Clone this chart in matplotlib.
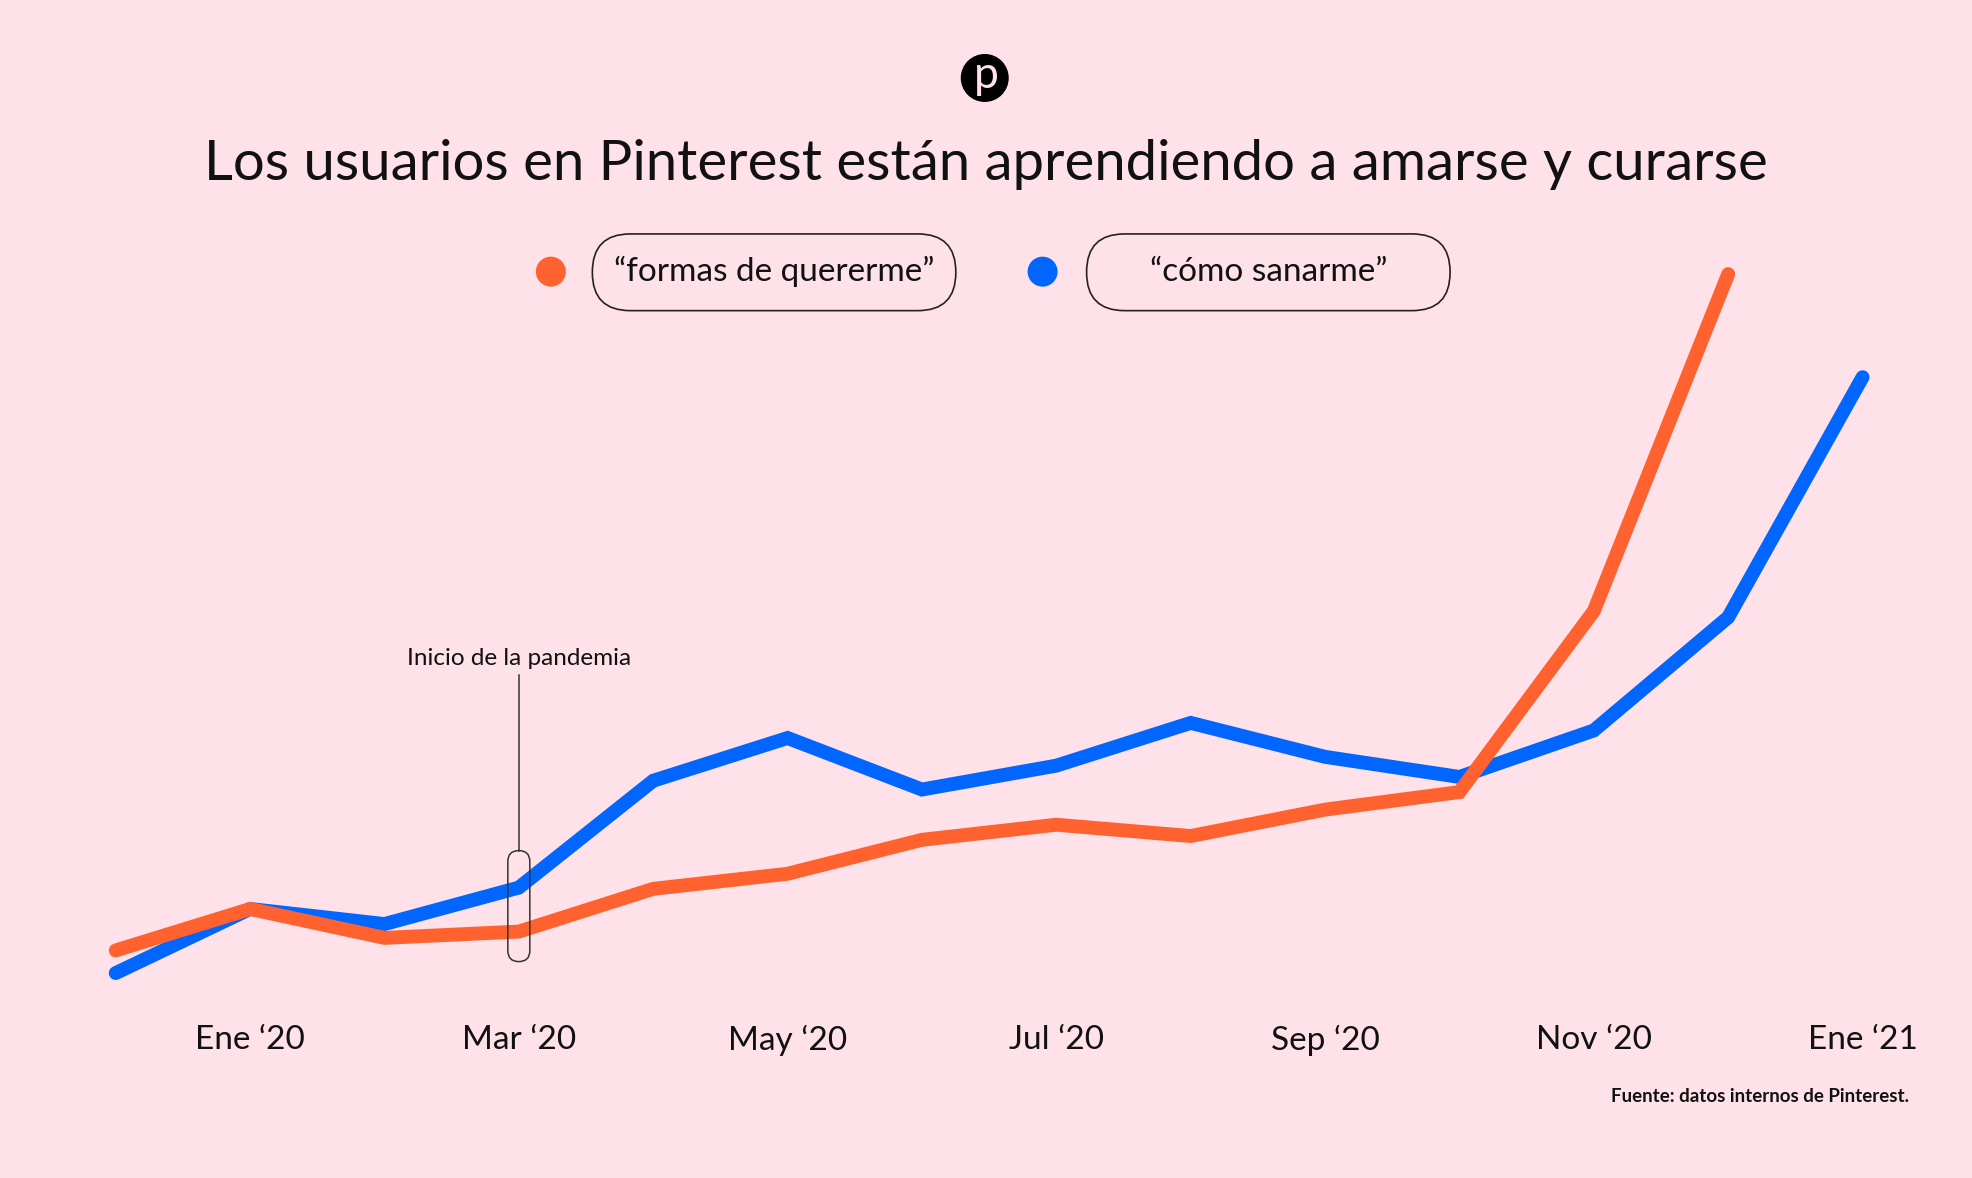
import numpy as np
import matplotlib.pyplot as plt
from matplotlib.patches import FancyBboxPatch, Circle

plt.rcParams['font.family'] = ['Lato', 'DejaVu Sans']

# Data (relative search interest)
months = ['Dic', 'Ene', 'Feb', 'Mar', 'Abr', 'May', 'Jun', 'Jul', 'Ago', 'Sep', 'Oct', 'Nov', 'Dic', 'Ene']
quererme = [44, 77, 54, 59, 93, 105, 132, 144, 135, 156, 170, 314, 582]
sanarme = [26, 77, 65, 94, 179, 213, 172, 191, 225, 198, 182, 219, 309, 500]
tick_idx = [1, 3, 5, 7, 9, 11, 13]
tick_labels = ['Ene \u201820', 'Mar \u201820', 'May \u201820', 'Jul \u201820',
               'Sep \u201820', 'Nov \u201820', 'Ene \u201821']

BG = '#FFE1E9'
ORANGE = '#FF622E'
BLUE = '#0066FF'
INK = '#111111'

W, H = 1972, 1178
S = W / 1568  # shown -> full scale

fig = plt.figure(figsize=(W / 100, H / 100), dpi=100, facecolor=BG)


def fx(x):
    return x / 1568


def fy(y):
    return 1 - y / 937


def inch(x, y):
    # shown coords -> inches from bottom-left
    return x * S / 100, (H - y * S) / 100


# axes: full width, x index 0 at shown 92, index 13 at 1481
step = (1481 - 92) / 13
ax = fig.add_axes([0, fy(790), 1, fy(200) - fy(790)])
ax.set_facecolor(BG)
ax.set_xlim(-92 / step, 13 + (1568 - 1481) / step)
ax.set_ylim(10, 600)
for s in ax.spines.values():
    s.set_visible(False)
ax.set_yticks([])

ax.plot(range(len(sanarme)), sanarme, color=BLUE, lw=10, solid_capstyle='round',
        solid_joinstyle='miter', clip_on=False, zorder=3)
ax.plot(range(len(quererme)), quererme, color=ORANGE, lw=10, solid_capstyle='round',
        solid_joinstyle='miter', clip_on=False, zorder=4)

ax.set_xticks(tick_idx)
ax.set_xticklabels(tick_labels, fontsize=24, color=INK)
ax.tick_params(axis='x', length=0, pad=23)

# annotation: pandemic start (March)
fig.canvas.draw()
px, py_blue = ax.transData.transform((3, sanarme[3]))
_, py_or = ax.transData.transform((3, quererme[3]))
top = py_blue + 37
bot = py_or - 30
wpx = 22
pill = FancyBboxPatch(((px - wpx / 2) / 100, bot / 100), wpx / 100, (top - bot) / 100,
                      boxstyle='round,pad=0,rounding_size=0.11',
                      transform=fig.dpi_scale_trans, facecolor='none',
                      edgecolor='#333333', lw=1.1, zorder=6)
fig.patches.append(pill)
ty = fy(537) * H
fig.add_artist(plt.Line2D([px / W, px / W], [top / H, ty / H], color='#333333', lw=1.1))
fig.text(px / W, fy(524), 'Inicio de la pandemia', ha='center', va='center',
         fontsize=17.5, color=INK)

# title
fig.text(0.5, fy(131), 'Los usuarios en Pinterest están aprendiendo a amarse y curarse',
         ha='center', va='center', fontsize=40.5, color=INK)

# pinterest logo
cx, cy = inch(783, 62)
fig.patches.append(Circle((cx, cy), 0.24, transform=fig.dpi_scale_trans,
                          facecolor='black', edgecolor='none'))
fig.text(fx(784), fy(60), 'p', ha='center', va='center', fontsize=32,
         color=BG)

# legend
for dot_x, x0, x1, label, col in [(438, 471, 760, '\u201cformas de quererme\u201d', ORANGE),
                                  (829, 864, 1153, '\u201ccómo sanarme\u201d', BLUE)]:
    dx, dy = inch(dot_x, 216)
    fig.patches.append(Circle((dx, dy), 0.15, transform=fig.dpi_scale_trans,
                              facecolor=col, edgecolor='none'))
    bx, by = inch(x0, 247)
    bx1, by1 = inch(x1, 186)
    fig.patches.append(FancyBboxPatch((bx, by), bx1 - bx, by1 - by,
                                      boxstyle='round,pad=0,rounding_size=0.38',
                                      transform=fig.dpi_scale_trans, facecolor='none',
                                      edgecolor='#222222', lw=1.2))
    fig.text(fx((x0 + x1) / 2), fy(216), label, ha='center', va='center',
             fontsize=24, color=INK)

# source
fig.text(fx(1518), fy(872), 'Fuente: datos internos de Pinterest.', ha='right',
         va='center', fontsize=13.5, fontweight='bold', color=INK)

fig.savefig('out.png', dpi=100, facecolor=BG)
